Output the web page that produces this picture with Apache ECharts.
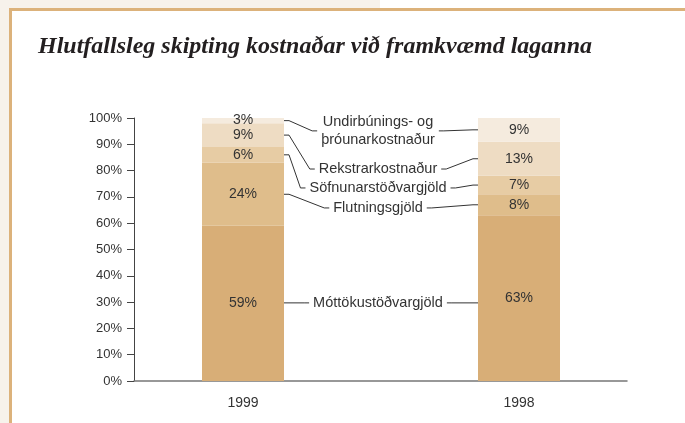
<!DOCTYPE html>
<html>
<head>
<meta charset="utf-8">
<script src="https://cdn.jsdelivr.net/npm/echarts@6/dist/echarts.min.js"></script>
<style>
  html, body { margin: 0; padding: 0; background: #fff; }
  .page { position: relative; width: 685px; height: 423px; overflow: hidden; background: #fff; }
  .cream-top { position: absolute; left: 0; top: 0; width: 380px; height: 8px; background: #f7f2eb; }
  .cream-left { position: absolute; left: 0; top: 0; width: 9px; height: 423px; background: #f7f2eb; }
  .frame-top { position: absolute; left: 9px; top: 8px; right: 0; height: 3px; background: #dcb27b; }
  .frame-left { position: absolute; left: 9px; top: 8px; width: 3px; bottom: 0; background: #dcb27b; }
  #chart { position: absolute; left: 0; top: 0; width: 685px; height: 423px; }
</style>
</head>
<body>
<div class="page">
  <div class="cream-top"></div>
  <div class="cream-left"></div>
  <div class="frame-top"></div>
  <div class="frame-left"></div>
  <div id="chart"></div>
</div>
<script>
// gögn, lesin af myndinni (hlutfall í %)
const categories = ['1999', '1998']
const seriesNames = [
  'Móttökustöðvargjöld',
  'Flutningsgjöld',
  'Söfnunarstöðvargjöld',
  'Rekstrarkostnaður',
  'Undirbúnings- og\nþróunarkostnaður'
]
const moettoku = [59, 63]
const flutnings = [24, 8]
const soefnunar = [6, 7]
const rekstrar = [9, 13]
const undirbun = [3, 9]
const yTicks = [0, 10, 20, 30, 40, 50, 60, 70, 80, 90, 100]

const seriesData = [moettoku, flutnings, soefnunar, rekstrar, undirbun]
const colors = ['#d8ae77', '#dfbd8b', '#e7cca4', '#eedcc3', '#f5ebde']

const FONT = '"Liberation Sans", Arial, sans-serif'
const LABEL_SIZE = 14.5
const BAR_W = 82

const chart = echarts.init(document.getElementById('chart'), null, { renderer: 'canvas' })

const options = {
  animation: false,
  backgroundColor: 'transparent',
  title: {
    text: 'Hlutfallsleg skipting kostnaðar við framkvæmd laganna',
    left: 33,
    top: 30,
    textStyle: {
      fontFamily: '"Liberation Serif", "DejaVu Serif", serif',
      fontStyle: 'italic',
      fontWeight: 'bold',
      fontSize: 24,
      color: '#231f20'
    }
  },
  grid: [
    // súlurnar
    { left: 105, right: 28, top: 118, bottom: 42 },
    // ásarnir
    { left: 134, right: 58, top: 118, bottom: 42 }
  ],
  xAxis: [
    {
      type: 'category',
      gridIndex: 0,
      data: categories,
      axisLine: { show: false },
      axisTick: { show: false },
      axisLabel: { color: '#333', fontFamily: FONT, fontSize: 14, margin: 15 }
    },
    {
      type: 'value',
      gridIndex: 1,
      min: 0,
      max: 1,
      axisLine: { show: true, lineStyle: { color: '#777', width: 1.5 } },
      axisTick: { show: false },
      axisLabel: { show: false },
      splitLine: { show: false }
    }
  ],
  yAxis: [
    {
      type: 'value',
      gridIndex: 0,
      min: 0,
      max: 100,
      show: false
    },
    {
      type: 'value',
      gridIndex: 1,
      min: yTicks[0],
      max: yTicks[yTicks.length - 1],
      interval: yTicks[1] - yTicks[0],
      axisLine: { show: true, lineStyle: { color: '#444', width: 1 } },
      axisTick: { show: true, length: 7, lineStyle: { color: '#444' } },
      axisLabel: { color: '#333', fontFamily: FONT, fontSize: 13, margin: 12, formatter: '{value}%' },
      splitLine: { show: false }
    }
  ],
  series: seriesData.map((d, i) => ({
    name: seriesNames[i],
    type: 'bar',
    stack: 'total',
    xAxisIndex: 0,
    yAxisIndex: 0,
    barWidth: BAR_W,
    data: d,
    z: 1,
    itemStyle: { color: colors[i] },
    label: {
      show: true,
      position: 'inside',
      formatter: '{c}%',
      color: '#333',
      fontFamily: FONT,
      fontSize: 14
    }
  }))
}

chart.setOption(options)

// skýringartextar og tengilínur milli súlnanna
function buildLeaders () {
  const ctx = document.createElement('canvas').getContext('2d')
  ctx.font = LABEL_SIZE + 'px ' + FONT
  const textLevels = [29.7, 65.8, 73.4, 80.6, 95.1] // hæð skýringa í %
  const half = BAR_W / 2
  const graphics = []
  let cum = [0, 0]
  seriesData.forEach((d, i) => {
    let midA = Math.min(cum[0] + d[0] / 2, 99)
    let midB = cum[1] + d[1] / 2
    cum = [cum[0] + d[0], cum[1] + d[1]]
    if (i === 0) {
      // neðsti flokkurinn tengist með beinni línu
      midA = textLevels[0]
      midB = textLevels[0]
    }
    const pA = chart.convertToPixel({ xAxisIndex: 0, yAxisIndex: 0 }, [categories[0], midA])
    const pB = chart.convertToPixel({ xAxisIndex: 0, yAxisIndex: 0 }, [categories[1], midB])
    const pT = chart.convertToPixel({ xAxisIndex: 0, yAxisIndex: 0 }, [categories[0], textLevels[i]])
    const xa = pA[0] + half
    const xb = pB[0] - half
    const cx = (xa + xb) / 2 - 3
    const yt = pT[1]
    const lines = seriesNames[i].split('\n')
    const w = Math.max(...lines.map(l => ctx.measureText(l).width))
    const tl = cx - w / 2
    const tr = cx + w / 2
    graphics.push({
      type: 'text',
      silent: true,
      style: {
        text: seriesNames[i],
        x: cx,
        y: yt,
        align: 'center',
        verticalAlign: 'middle',
        fontFamily: FONT,
        fontSize: LABEL_SIZE,
        lineHeight: 18,
        fill: '#333'
      }
    })
    graphics.push({
      type: 'polyline',
      silent: true,
      shape: { points: [[xa, pA[1]], [xa + 5, pA[1]], [tl - 9, yt], [tl - 4, yt]] },
      style: { stroke: '#333', lineWidth: 1, fill: null }
    })
    graphics.push({
      type: 'polyline',
      silent: true,
      shape: { points: [[tr + 4, yt], [tr + 9, yt], [xb - 5, pB[1]], [xb, pB[1]]] },
      style: { stroke: '#333', lineWidth: 1, fill: null }
    })
  })
  chart.setOption({ graphic: graphics })
}

buildLeaders()
</script>
</body>
</html>
